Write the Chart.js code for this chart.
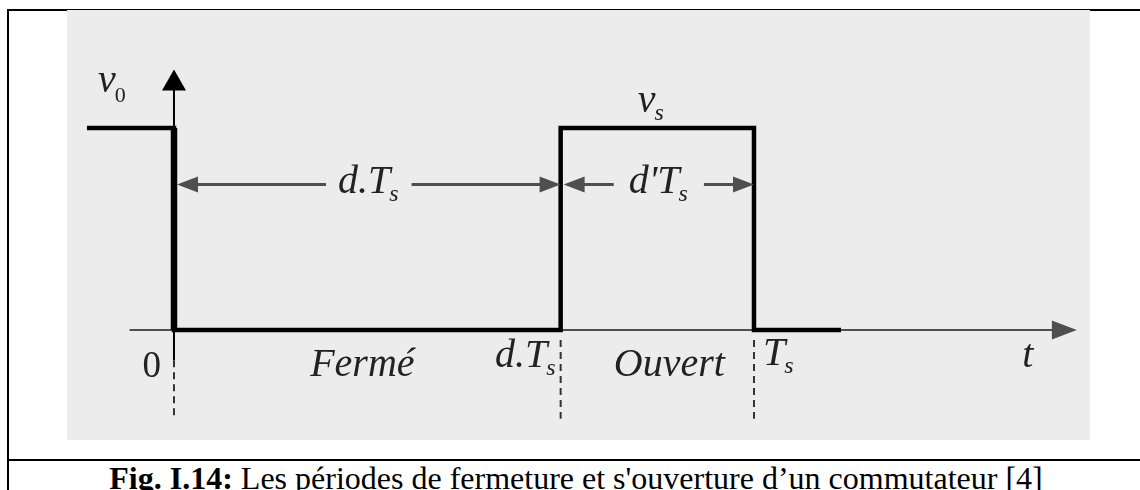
<!DOCTYPE html>
<html>
<head>
<meta charset="utf-8">
<script src="https://cdn.jsdelivr.net/npm/chart.js@4.4.0/dist/chart.umd.min.js"></script>
<style>
body{margin:0;background:#fff;}
#page{position:relative;width:1140px;height:490px;overflow:hidden;}
#chart-box{position:absolute;left:67px;top:10px;width:1023px;height:430px;background:#ececec;}
.rule{position:absolute;background:#000;}
#caption{position:absolute;left:6px;width:1140px;top:462px;text-align:center;font-family:'Liberation Serif',serif;font-size:32px;line-height:32px;color:#000;white-space:nowrap;}
</style>
</head>
<body>
<div id="page">
  <div class="rule" style="left:7px;top:9px;width:1133px;height:1.5px;"></div>
  <div class="rule" style="left:1090px;top:9px;width:50px;height:2px;"></div>
  <div class="rule" style="left:7px;top:9px;width:1.5px;height:481px;"></div>
  <div class="rule" style="left:7px;top:459px;width:1133px;height:1.5px;"></div>
  <div id="chart-box"><canvas id="myChart"></canvas></div>
  <div id="caption"><b>Fig. I.14:</b> Les périodes de fermeture et s'ouverture d’un commutateur [4]</div>
</div>
<script>
'use strict';
// signal v0(t) : time in units of Ts/3 so that d.Ts = 2 and Ts = 3
let signalTimes=[-0.45,0,2,3,3.45];
let signalLevels=[1,0,1,0,0];
// the switching instants and their labels under the time axis
let instantTimes=[0,2,3];
let instantMain=['0','d.T','T'];
let instantSub=['','s','s'];
// interval names under the axis
let intervalNames=['Fermé','Ouvert'];
let intervalStart=[0,2];
let intervalEnd=[2,3];
// dimension arrows above the signal
let dimMain=['d.T',"d'T"];
let dimSub=['s','s'];
let dimLevel=0.72;
// axes extents
let axisLeft=-0.23;
let axisRight=4.67;
let axisTop=1.29;

let serif="'Liberation Serif', serif";
let ink='#222';
let grey='#4f4f4f';

function drawSub(ctx,main,sub,x,y,align,size,subSize,drop,mainItalic,subItalic){
  ctx.font=(mainItalic?'italic ':'')+size+'px '+serif;
  let w1=ctx.measureText(main).width;
  ctx.font=(subItalic?'italic ':'')+subSize+'px '+serif;
  let w2=sub?ctx.measureText(sub).width:0;
  let total=w1+w2;
  let start=x;
  if(align==='center'){start=x-total/2;}
  else if(align==='right'){start=x-total;}
  ctx.textAlign='left';
  ctx.textBaseline='alphabetic';
  ctx.fillStyle=ink;
  ctx.font=(mainItalic?'italic ':'')+size+'px '+serif;
  ctx.fillText(main,start,y);
  if(sub){
    ctx.font=(subItalic?'italic ':'')+subSize+'px '+serif;
    ctx.fillText(sub,start+w1-1,y+drop);
  }
  return {left:start,right:start+total};
}

function arrowHead(ctx,tx,ty,dx,dy,len,half,color){
  // dx,dy is the unit direction the arrow points to
  ctx.fillStyle=color;
  ctx.beginPath();
  ctx.moveTo(tx,ty);
  ctx.lineTo(tx-dx*len-dy*half,ty-dy*len+dx*half);
  ctx.lineTo(tx-dx*len+dy*half,ty-dy*len-dx*half);
  ctx.closePath();
  ctx.fill();
}

function line(ctx,x1,y1,x2,y2,color,width,dash){
  ctx.save();
  ctx.strokeStyle=color;
  ctx.lineWidth=width;
  ctx.setLineDash(dash||[]);
  ctx.beginPath();
  ctx.moveTo(x1,y1);
  ctx.lineTo(x2,y2);
  ctx.stroke();
  ctx.restore();
}

let axesPlugin={
  id:'axesPlugin',
  beforeDatasetsDraw(chart){
    let ctx=chart.ctx;
    let xs=chart.scales.x;
    let ys=chart.scales.y;
    let y0=ys.getPixelForValue(0);
    let x0=xs.getPixelForValue(0);
    // time axis
    let tip=xs.getPixelForValue(axisRight);
    line(ctx,xs.getPixelForValue(axisLeft),y0,tip-20,y0,grey,2);
    arrowHead(ctx,tip,y0,1,0,25,9.5,grey);
    // vertical axis
    let top=ys.getPixelForValue(axisTop);
    line(ctx,x0,top+18,x0,ys.getPixelForValue(-0.15),'#000',2);
    arrowHead(ctx,x0,top,0,-1,21,12,'#000');
    // dashed marks of the instants
    line(ctx,x0,ys.getPixelForValue(-0.15),x0,ys.getPixelForValue(-0.44),'#333',2,[7,5]);
    for(let i=1;i<instantTimes.length;i++){
      let xp=xs.getPixelForValue(instantTimes[i]);
      line(ctx,xp,ys.getPixelForValue(-0.05),xp,ys.getPixelForValue(-0.44),'#333',2,[7,5]);
    }
  },
  afterDatasetsDraw(chart){
    let ctx=chart.ctx;
    let xs=chart.scales.x;
    let ys=chart.scales.y;
    let y0=ys.getPixelForValue(0);
    let y1=ys.getPixelForValue(1);
    let x0=xs.getPixelForValue(0);
    ctx.save();
    // v0 and vs
    drawSub(ctx,'v','0',x0-76,y1-36,'left',40,22,10,true,false);
    let mid=(xs.getPixelForValue(2)+xs.getPixelForValue(3))/2;
    drawSub(ctx,'v','s',mid-6,y1-16,'center',40,24,8,true,true);
    // dimension arrows
    let yd=ys.getPixelForValue(dimLevel);
    for(let i=0;i<dimMain.length;i++){
      let a=xs.getPixelForValue(i===0?0:2)+3;
      let b=xs.getPixelForValue(i===0?2:3);
      let c=(a+b)/2;
      let box=drawSub(ctx,dimMain[i],dimSub[i],c,yd+8,'center',40,24,8,true,true);
      let pad=i===0?12:15;
      line(ctx,a+18,yd,box.left-pad,yd,grey,3);
      line(ctx,box.right+pad,yd,b-18,yd,grey,3);
      arrowHead(ctx,a,yd,-1,0,21,8,grey);
      arrowHead(ctx,b,yd,1,0,21,8,grey);
    }
    // labels under the time axis
    drawSub(ctx,'0','',x0-13,y0+47,'right',37,24,8,false,false);
    drawSub(ctx,instantMain[1],instantSub[1],xs.getPixelForValue(instantTimes[1])-4,y0+37,'right',40,24,8,true,true);
    drawSub(ctx,instantMain[2],instantSub[2],xs.getPixelForValue(instantTimes[2])+9,y0+35,'left',40,24,8,true,true);
    for(let i=0;i<intervalNames.length;i++){
      let c=(xs.getPixelForValue(intervalStart[i])+xs.getPixelForValue(intervalEnd[i]))/2;
      drawSub(ctx,intervalNames[i],'',c+(i===0?-5:12),y0+46,'center',40,24,8,true,false);
    }
    drawSub(ctx,'t','',xs.getPixelForValue(axisRight)-49,y0+37,'center',40,24,8,true,false);
    ctx.restore();
  }
};

let ctx=document.getElementById('myChart').getContext('2d');
let chart=new Chart(ctx,{
  type:'line',
  data:{
    datasets:[
      {
        data:signalTimes.map((t,i)=>({x:t,y:signalLevels[i]})),
        stepped:true,
        borderColor:'#000',
        borderWidth:4.5,
        pointRadius:0,
        fill:false,
        borderJoinStyle:'miter',
        borderCapStyle:'butt'
      },
      {
        // the falling edge at t=0 is drawn heavier
        data:[{x:instantTimes[0],y:1},{x:instantTimes[0],y:0}],
        borderColor:'#000',
        borderWidth:6.5,
        pointRadius:0,
        fill:false,
        borderCapStyle:'butt'
      }
    ]
  },
  options:{
    responsive:true,
    maintainAspectRatio:false,
    animation:false,
    layout:{padding:0},
    plugins:{legend:{display:false},tooltip:{enabled:false}},
    scales:{
      x:{type:'linear',min:-0.5534,max:4.738,display:false},
      y:{type:'linear',min:-0.5446,max:1.584,display:false}
    }
  },
  plugins:[axesPlugin]
});
</script>
</body>
</html>
